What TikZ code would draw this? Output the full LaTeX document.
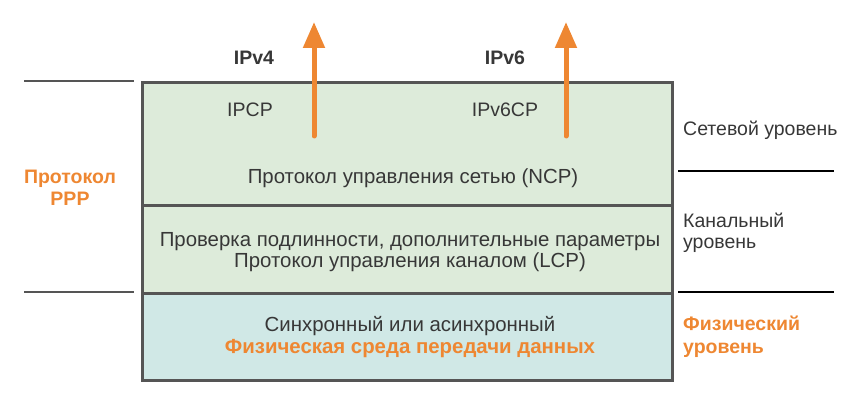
\documentclass[tikz,border=0pt]{standalone}
\usepackage{fontspec}
\setmainfont{Liberation Sans}
\usetikzlibrary{positioning,arrows.meta}
\definecolor{pppOrange}{RGB}{238,135,50}
\definecolor{pppText}{RGB}{55,55,55}
\definecolor{pppBorder}{RGB}{85,85,85}
\definecolor{pppGreen}{RGB}{221,235,218}
\definecolor{pppBlue}{RGB}{208,232,230}

\begin{document}
\begin{tikzpicture}[
  x=1pt, y=-1pt,
  font=\fontsize{19.5}{21.5}\selectfont, text=pppText,
  layer/.style={draw=pppBorder, line width=3pt, minimum width=530pt, anchor=north west, inner sep=0pt},
  txt/.style={align=center, inner sep=0pt},
  intxt/.style={txt, font=\fontsize{20.4}{21.5}\selectfont},
  side/.style={align=left, anchor=west, inner sep=0pt},
  hot/.style={text=pppOrange, font=\fontsize{19.5}{22.5}\selectfont\bfseries},
  sep/.style={line width=1.3pt},
  up/.style={-{Triangle[length=26pt, width=21pt]}, line width=5pt, pppOrange, line cap=round},
]
\useasboundingbox (0,0) rectangle (865,406);
% layers
\node[layer, fill=pppGreen, minimum height=123pt] (ncp) at (141,81) {};
\node[layer, fill=pppGreen, minimum height=88pt] (lcp) at (141,204) {};
\node[layer, fill=pppBlue, minimum height=87pt] (phy) at (141,292) {};
% texts in the layers
\node[txt] (ipcp) at (250,110) {IPCP};
\node[txt] (ipv6cp) at (505,110) {IPv6CP};
\node[intxt] (ncptxt) at (413,178) {Протокол управления сетью (NCP)};
\node[intxt] (lcptxt) at (410,252) {Проверка подлинности, дополнительные параметры\\Протокол управления каналом (LCP)};
\node[intxt] (phytxt) at (410,337) {Синхронный или асинхронный\\{\color{pppOrange}\bfseries Физическая среда передачи данных}};
% upper protocols
\node[txt, font=\fontsize{19.5}{21.5}\selectfont\bfseries] (ipv4) at (254,58) {IPv4};
\node[txt, font=\fontsize{19.5}{21.5}\selectfont\bfseries] (ipv6) at (505,58) {IPv6};
\coordinate (v4from) at (314,136);
\coordinate (v4to) at (314,22);
\coordinate (v6from) at (566,136);
\coordinate (v6to) at (566,22);
\draw[up] (v4from) -- (v4to);
\draw[up] (v6from) -- (v6to);
% side labels
\node[txt, hot] (ppp) at (70,188) {Протокол\\PPP};
\node[side] (net) at (683,130) {Сетевой уровень};
\node[side] (link) at (683,233) {Канальный\\уровень};
\node[side, hot] (phys) at (683,337) {Физический\\уровень};
% separator lines
\coordinate (l1a) at (24,81);  \coordinate (l1b) at (134,81);
\coordinate (l2a) at (24,292); \coordinate (l2b) at (134,292);
\coordinate (r1a) at (678,171); \coordinate (r1b) at (834,171);
\coordinate (r2a) at (678,292); \coordinate (r2b) at (834,292);
\draw[sep, pppBorder] (l1a) -- (l1b);
\draw[sep, pppBorder] (l2a) -- (l2b);
\draw[sep, black] (r1a) -- (r1b);
\draw[sep, black] (r2a) -- (r2b);
\end{tikzpicture}
\end{document}
